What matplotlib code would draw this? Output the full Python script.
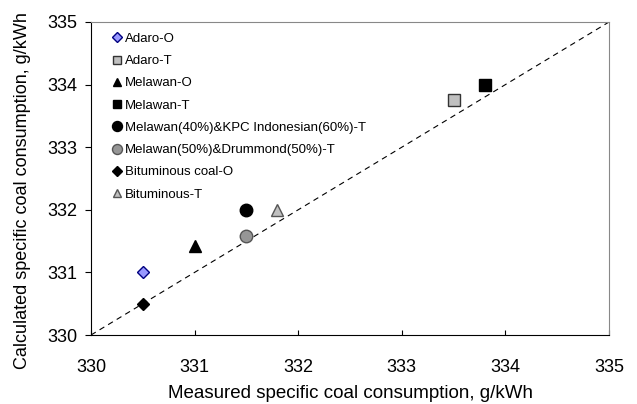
import matplotlib.pyplot as plt

plt.rcParams['font.family'] = ['Liberation Sans', 'DejaVu Sans']

# series: label, measured, calculated
labels = ["Adaro-O", "Adaro-T", "Melawan-O", "Melawan-T",
          "Melawan(40%)&KPC Indonesian(60%)-T",
          "Melawan(50%)&Drummond(50%)-T",
          "Bituminous coal-O", "Bituminous-T"]
measured = [330.5, 333.5, 331.0, 333.8, 331.5, 331.5, 330.5, 331.8]
calculated = [331.0, 333.75, 331.42, 334.0, 332.0, 331.58, 330.5, 332.0]

markers = ["D", "s", "^", "s", "o", "o", "D", "^"]
faces = ["#9999ff", "#c0c0c0", "black", "black", "black", "#969696", "black", "#c0c0c0"]
edges = ["#000080", "#333333", "black", "black", "black", "#555555", "black", "#555555"]
sizes = [6.5, 8, 8, 8, 9, 9, 6.5, 8]

ticks = [330, 331, 332, 333, 334, 335]

fig = plt.figure(figsize=(6.37, 4.04), dpi=100)
ax = fig.add_axes([91 / 637, 1 - 335 / 404, 518 / 637, 313 / 404])

# 1:1 line
ax.plot([ticks[0], ticks[-1]], [ticks[0], ticks[-1]], "--k", lw=0.8,
        dashes=(5, 4))

for i in range(len(labels)):
    ax.plot(measured[i], calculated[i], linestyle="none", marker=markers[i],
            ms=sizes[i], mfc=faces[i], mec=edges[i], mew=1.0, label=labels[i])

ax.set_xlim(ticks[0], ticks[-1])
ax.set_ylim(ticks[0], ticks[-1])
ax.set_xticks(ticks)
ax.set_yticks(ticks)
ax.tick_params(axis="x", direction="in", length=3.6, labelsize=13, pad=17)
ax.tick_params(axis="y", direction="out", length=4.3, labelsize=13, pad=5.7)
ax.spines["top"].set_color("#888888")
ax.spines["right"].set_color("#888888")
ax.set_xlabel("Measured specific coal consumption, g/kWh", fontsize=13.5)
ax.set_ylabel("Calculated specific coal consumption, g/kWh", fontsize=13)
ax.xaxis.set_label_coords(0.5, -0.159)
ax.yaxis.set_label_coords(-0.116, 0.463)

leg = ax.legend(loc="upper left", frameon=False, fontsize=9.5, markerscale=0.8,
                handlelength=0.6, handletextpad=0.3, labelspacing=0.76,
                borderaxespad=0, borderpad=0, bbox_to_anchor=(0.0425, 0.966))

fig.savefig("out.png", dpi=100)
